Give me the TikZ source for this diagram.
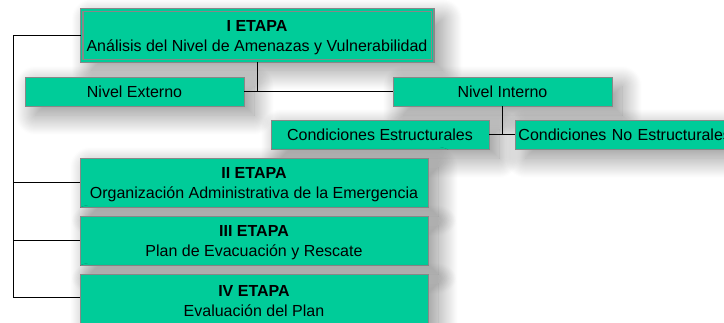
\documentclass[tikz,border=0pt]{standalone}
\usepackage{fontspec}
\setmainfont{Liberation Sans}
\usetikzlibrary{shadows.blur}

\definecolor{etapagreen}{RGB}{0,204,153}
\definecolor{etapagray}{RGB}{136,136,136}

\newcommand{\etapatitle}[1]{\rule{0pt}{15.5pt}\textbf{#1}}

\begin{document}
\begin{tikzpicture}[
    x=1pt, y=-1pt,
    every node/.style={font=\fontsize{16}{20}\selectfont},
    box/.style={draw=etapagray, fill=etapagreen, line width=0.9pt, inner sep=0pt,
        align=center, blur shadow={shadow xshift=10pt, shadow yshift=-9pt,
        shadow blur radius=20pt, shadow blur steps=40, shadow opacity=45}},
    mainbox/.style={box, line width=1.2pt, double=etapagreen, double distance=1.6pt},
    link/.style={line width=0.8pt, black}
]
\useasboundingbox (0,0) rectangle (724,322);

\node[mainbox, minimum width=351, minimum height=51] (etapaI) at (257,35.5)
{\etapatitle{I ETAPA}\\An\'alisis del Nivel de Amenazas y Vulnerabilidad};

\node[box, minimum width=219, minimum height=29] (externo) at (134.5,91.5) {Nivel Externo};
\node[box, minimum width=219, minimum height=29] (interno) at (502.5,91.5) {Nivel Interno};

\node[box, minimum width=218, minimum height=29] (estruct) at (380,134.5) {Condiciones Estructurales};
\node[box, minimum height=29, text width=226, align=left, inner xsep=3pt, anchor=west]
(noestruct) at (515,134.5) {Condiciones No Estructurales};

\node[box, minimum width=348, minimum height=49] (etapaII) at (254,182.5)
{\etapatitle{II ETAPA}\\Organizaci\'on Administrativa de la Emergencia};
\node[box, minimum width=348, minimum height=49] (etapaIII) at (254,240.5)
{\etapatitle{III ETAPA}\\Plan de Evacuaci\'on y Rescate};
\node[box, minimum width=348, minimum height=49] (etapaIV) at (254,298.5)
{\etapatitle{IV ETAPA}\\Evaluaci\'on del Plan};

% left bus
\coordinate (busTop) at (13,35.5);
\coordinate (busEnd) at (13,297);
\draw[link] (etapaI.west) -- (busTop) -- (busEnd) -- (etapaIV.west |- busEnd);
\draw[link] (etapaII.west) -- (etapaII.west -| busTop);
\draw[link] (etapaIII.west) -- (etapaIII.west -| busTop);

% levels
\draw[link] (etapaI.south) -- (etapaI.south |- externo.east);
\draw[link] (externo.east) -- (interno.west);
\draw[link] (interno.south) -- (interno.south |- estruct.east);
\draw[link] (estruct.east) -- (noestruct.west);

\end{tikzpicture}
\end{document}
